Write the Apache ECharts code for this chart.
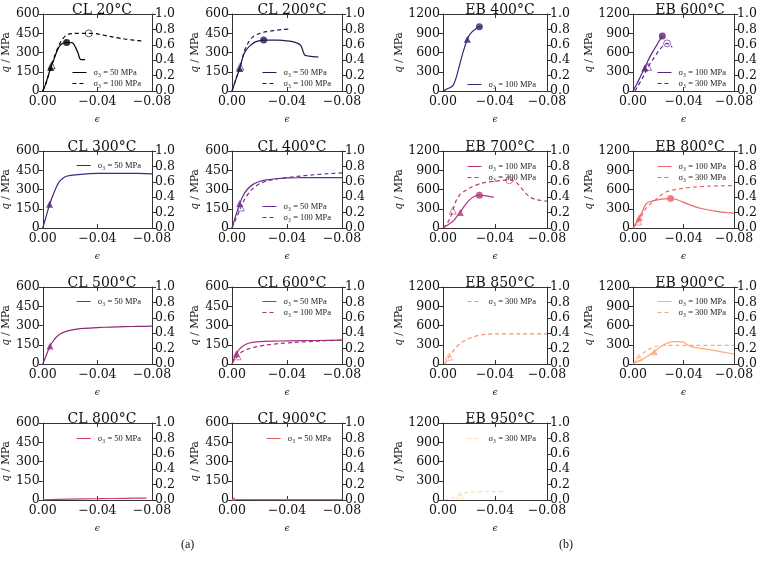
<!DOCTYPE html>
<html><head><meta charset="utf-8">
<script src="https://cdn.jsdelivr.net/npm/echarts@6/dist/echarts.min.js"></script>
<style>html,body{margin:0;padding:0;background:#fff}#c{width:760px;height:569px}</style>
</head><body><div id="c"></div>
<script>
// ---------- axis ranges / tick steps ----------
const EPS_MIN = -0.08, EPS_MAX = 0, EPS_STEP = 0.04;
const CL_QMAX = 600, CL_QSTEP = 150;
const EB_QMAX = 1200, EB_QSTEP = 300;
const R_MAX = 1.0, R_STEP = 0.2;

// ---------- CL data: [strain, q (MPa)] ----------
const cl20_50 = [[0,0],[-0.002,50],[-0.004,120],[-0.006,185],[-0.008,240],[-0.010,300],[-0.012,345],[-0.014,368],[-0.016,376],[-0.0175,378],[-0.020,378],[-0.022,374],[-0.024,340],[-0.026,290],[-0.027,255],[-0.028,245],[-0.031,245]];
const cl20_50_tri = [-0.0058,183], cl20_50_peak = [-0.0175,378];
const cl20_100 = [[0,0],[-0.003,80],[-0.006,190],[-0.009,280],[-0.012,360],[-0.0145,405],[-0.018,440],[-0.022,448],[-0.0337,449],[-0.040,445],[-0.050,423],[-0.060,405],[-0.070,392],[-0.074,390]];
const cl20_100_tri = [-0.0065,200], cl20_100_peak = [-0.0337,449];

const cl200_50 = [[0,0],[-0.003,95],[-0.0056,175],[-0.008,270],[-0.010,315],[-0.013,352],[-0.017,383],[-0.023,397],[-0.033,397],[-0.042,388],[-0.047,375],[-0.050,355],[-0.052,300],[-0.053,278],[-0.056,272],[-0.063,265]];
const cl200_50_tri = [-0.0056,175], cl200_50_peak = [-0.023,397];
const cl200_100 = [[0,0],[-0.003,100],[-0.006,190],[-0.009,310],[-0.012,380],[-0.015,420],[-0.020,448],[-0.025,462],[-0.030,470],[-0.036,478],[-0.042,483]];
const cl200_100_tri = [-0.006,190];

const cl300_50 = [[0,0],[-0.003,110],[-0.005,185],[-0.008,270],[-0.010,320],[-0.012,360],[-0.015,390],[-0.018,405],[-0.022,412],[-0.030,420],[-0.040,425],[-0.050,426],[-0.060,426],[-0.070,425],[-0.080,422]];
const cl300_50_tri = [-0.005,185];

const cl400_50 = [[0,0],[-0.003,105],[-0.0056,190],[-0.008,250],[-0.011,300],[-0.015,338],[-0.020,362],[-0.025,375],[-0.030,382],[-0.040,390],[-0.050,392],[-0.060,393],[-0.080,393]];
const cl400_50_tri = [-0.0056,190];
const cl400_100 = [[0,0],[-0.003,75],[-0.0065,160],[-0.009,220],[-0.012,270],[-0.016,315],[-0.020,345],[-0.025,365],[-0.030,378],[-0.040,393],[-0.050,405],[-0.060,415],[-0.070,423],[-0.080,430]];
const cl400_100_tri = [-0.0065,160];

const cl500_50 = [[0,0],[-0.003,80],[-0.0053,140],[-0.008,185],[-0.010,210],[-0.013,235],[-0.016,250],[-0.020,262],[-0.025,272],[-0.030,278],[-0.040,284],[-0.050,288],[-0.060,291],[-0.070,293],[-0.080,295]];
const cl500_50_tri = [-0.0053,140];

const cl600_50 = [[0,0],[-0.002,55],[-0.0032,80],[-0.005,110],[-0.008,140],[-0.011,158],[-0.015,168],[-0.020,174],[-0.030,178],[-0.040,180],[-0.060,183],[-0.080,186]];
const cl600_50_tri = [-0.0032,80];
const cl600_100 = [[0,0],[-0.002,35],[-0.004,60],[-0.006,85],[-0.009,105],[-0.013,122],[-0.018,135],[-0.025,148],[-0.035,160],[-0.045,168],[-0.060,177],[-0.080,186]];
const cl600_100_tri = [-0.004,60];

const cl800_50 = [[0,2],[-0.02,7],[-0.04,10],[-0.06,13],[-0.076,15]];
const cl900_50 = [[0,0],[-0.001,8],[-0.003,4],[-0.02,3],[-0.08,3]];
const cl900_50_tri = [-0.0015,10];

// ---------- EB data ----------
const eb400_100 = [[0,0],[-0.003,30],[-0.006,60],[-0.008,95],[-0.010,200],[-0.012,350],[-0.014,500],[-0.016,640],[-0.0187,805],[-0.021,890],[-0.024,950],[-0.028,1000],[-0.030,1000]];
const eb400_100_tri = [-0.0187,805], eb400_100_peak = [-0.028,1000];

const eb600_100 = [[0,0],[-0.003,110],[-0.006,230],[-0.0093,360],[-0.012,480],[-0.015,590],[-0.018,690],[-0.021,790],[-0.0232,856]];
const eb600_100_tri = [-0.0093,360], eb600_100_peak = [-0.0232,856];
const eb600_300 = [[-0.0015,0],[-0.004,80],[-0.008,220],[-0.0119,376],[-0.016,500],[-0.0207,636],[-0.024,705],[-0.027,741],[-0.029,720],[-0.031,680]];
const eb600_300_tri = [-0.0119,376], eb600_300_peak = [-0.027,741];

const eb700_100 = [[0,0],[-0.003,40],[-0.006,80],[-0.008,110],[-0.011,190],[-0.0133,245],[-0.016,330],[-0.020,430],[-0.024,490],[-0.028,510],[-0.032,505],[-0.036,490],[-0.039,480]];
const eb700_100_tri = [-0.0133,240], eb700_100_peak = [-0.028,510];
const eb700_300 = [[0,0],[-0.002,40],[-0.004,100],[-0.006,180],[-0.0075,270],[-0.010,420],[-0.013,520],[-0.017,580],[-0.022,640],[-0.030,700],[-0.040,730],[-0.050,745],[-0.053,745],[-0.057,700],[-0.062,580],[-0.067,480],[-0.072,440],[-0.080,420]];
const eb700_300_tri = [-0.0075,270], eb700_300_peak = [-0.051,745];

const eb800_100 = [[0,0],[-0.002,60],[-0.0049,158],[-0.007,240],[-0.009,330],[-0.011,390],[-0.015,420],[-0.020,440],[-0.025,455],[-0.0297,460],[-0.035,440],[-0.040,400],[-0.045,360],[-0.050,325],[-0.055,300],[-0.060,280],[-0.065,262],[-0.070,248],[-0.075,238],[-0.080,230]];
const eb800_100_tri = [-0.0049,158], eb800_100_peak = [-0.0297,460];
const eb800_300 = [[0,0],[-0.002,40],[-0.0041,102],[-0.007,200],[-0.010,300],[-0.014,380],[-0.018,440],[-0.022,510],[-0.026,560],[-0.031,590],[-0.040,620],[-0.050,640],[-0.060,652],[-0.070,658],[-0.080,660]];
const eb800_300_tri = [-0.0041,102];

const eb850_300 = [[-0.001,0],[-0.003,50],[-0.0046,114],[-0.007,180],[-0.010,260],[-0.014,330],[-0.018,380],[-0.023,420],[-0.028,450],[-0.034,465],[-0.040,470],[-0.060,470],[-0.080,470]];
const eb850_300_tri = [-0.0046,114];

const eb900_100 = [[0,0],[-0.004,40],[-0.008,80],[-0.012,130],[-0.0169,190],[-0.020,240],[-0.024,295],[-0.028,330],[-0.032,350],[-0.036,350],[-0.040,340],[-0.043,300],[-0.046,270],[-0.050,255],[-0.060,225],[-0.070,190],[-0.080,155]];
const eb900_100_tri = [-0.0169,190];
const eb900_300 = [[0,0],[-0.002,40],[-0.005,110],[-0.008,170],[-0.012,220],[-0.016,260],[-0.020,280],[-0.025,290],[-0.035,290],[-0.050,290],[-0.065,290],[-0.080,290]];
const eb900_300_tri = [-0.0045,100];

const eb950_300 = [[-0.001,0],[-0.004,15],[-0.008,35],[-0.0129,75],[-0.016,105],[-0.020,122],[-0.025,128],[-0.035,132],[-0.048,130]];
const eb950_300_tri = [-0.0129,75];

// ---------- labels ----------
const L50 = 'σ₃ = 50 MPa', L100 = 'σ₃ = 100 MPa', L300 = 'σ₃ = 300 MPa';

// ---------- panel layout ----------
const COLX = {0:[42,110], 1:[232,110], 2:[443,104], 3:[633,104]};
const ROWY = [14, 151, 287, 423];
const GH = 77;

const panels = [
 {t:'CL 20°C', k:'CL', r:0, c:0, col:'#000000', leg:54, lines:[
   {lab:L50, d:cl20_50, dash:false, tri:cl20_50_tri, pk:cl20_50_peak},
   {lab:L100, d:cl20_100, dash:true, tri:cl20_100_tri, pk:cl20_100_peak}]},
 {t:'CL 200°C', k:'CL', r:0, c:1, col:'#221a52', leg:54, lines:[
   {lab:L50, d:cl200_50, dash:false, tri:cl200_50_tri, pk:cl200_50_peak},
   {lab:L100, d:cl200_100, dash:true, tri:cl200_100_tri}]},
 {t:'CL 300°C', k:'CL', r:1, c:0, col:'#45267c', leg:10, lines:[
   {lab:L50, d:cl300_50, dash:false, tri:cl300_50_tri}]},
 {t:'CL 400°C', k:'CL', r:1, c:1, col:'#6c2e8c', leg:51, lines:[
   {lab:L50, d:cl400_50, dash:false, tri:cl400_50_tri},
   {lab:L100, d:cl400_100, dash:true, tri:cl400_100_tri}]},
 {t:'CL 500°C', k:'CL', r:2, c:0, col:'#8a2a80', leg:10, lines:[
   {lab:L50, d:cl500_50, dash:false, tri:cl500_50_tri}]},
 {t:'CL 600°C', k:'CL', r:2, c:1, col:'#a8337c', leg:10, lines:[
   {lab:L50, d:cl600_50, dash:false, tri:cl600_50_tri},
   {lab:L100, d:cl600_100, dash:true, tri:cl600_100_tri}]},
 {t:'CL 800°C', k:'CL', r:3, c:0, col:'#c9406e', leg:11, lines:[
   {lab:L50, d:cl800_50, dash:false}]},
 {t:'CL 900°C', k:'CL', r:3, c:1, col:'#e35a5e', leg:11, lines:[
   {lab:L50, d:cl900_50, dash:false, tri:cl900_50_tri, small:true}]},
 {t:'EB 400°C', k:'EB', r:0, c:2, col:'#30287a', leg:66, lines:[
   {lab:L100, d:eb400_100, dash:false, tri:eb400_100_tri, pk:eb400_100_peak}]},
 {t:'EB 600°C', k:'EB', r:0, c:3, col:'#5b1f7e', leg:54, lines:[
   {lab:L100, d:eb600_100, dash:false, tri:eb600_100_tri, pk:eb600_100_peak},
   {lab:L300, d:eb600_300, dash:true, tri:eb600_300_tri, pk:eb600_300_peak}]},
 {t:'EB 700°C', k:'EB', r:1, c:2, col:'#b8377a', leg:11, lines:[
   {lab:L100, d:eb700_100, dash:false, tri:eb700_100_tri, pk:eb700_100_peak},
   {lab:L300, d:eb700_300, dash:true, tri:eb700_300_tri, pk:eb700_300_peak}]},
 {t:'EB 800°C', k:'EB', r:1, c:3, col:'#f06565', leg:11, lines:[
   {lab:L100, d:eb800_100, dash:false, tri:eb800_100_tri, pk:eb800_100_peak},
   {lab:L300, d:eb800_300, dash:true, tri:eb800_300_tri}]},
 {t:'EB 850°C', k:'EB', r:2, c:2, col:'#f9916b', leg:10, lines:[
   {lab:L300, d:eb850_300, dash:true, tri:eb850_300_tri}]},
 {t:'EB 900°C', k:'EB', r:2, c:3, col:'#fbad78', leg:10, lines:[
   {lab:L100, d:eb900_100, dash:false, tri:eb900_100_tri},
   {lab:L300, d:eb900_300, dash:true, tri:eb900_300_tri}]},
 {t:'EB 950°C', k:'EB', r:3, c:2, col:'#fcdcaa', leg:11, lines:[
   {lab:L300, d:eb950_300, dash:true, tri:eb950_300_tri}]}
];

const AX = '#333333';
const SERIF = 'DejaVu Serif';
const fmtEps = v => (v < 0 ? '\u2212' : '') + Math.abs(v).toFixed(2);

const grid = [], xAxis = [], yAxis = [], series = [], legend = [], title = [];
panels.forEach((p, i) => {
  const [gx, gw] = COLX[p.c];
  const gy = ROWY[p.r];
  const qmax = p.k === 'CL' ? CL_QMAX : EB_QMAX;
  const qstep = p.k === 'CL' ? CL_QSTEP : EB_QSTEP;
  grid.push({left: gx, top: gy, width: gw, height: GH, containLabel: false});
  title.push({text: p.t, left: gx + gw / 2, top: gy - 16, textAlign: 'center',
    textStyle: {fontFamily: SERIF, fontSize: 14, fontWeight: 'normal', color: '#111'}});
  const axLine = {show: true, onZero: false, lineStyle: {color: AX, width: 1}};
  xAxis.push({gridIndex: i, type: 'value', min: EPS_MIN, max: EPS_MAX, interval: EPS_STEP, inverse: true,
    position: 'bottom', axisLine: axLine, axisTick: {show: true, inside: true, length: 4, lineStyle: {color: AX}},
    axisLabel: {formatter: fmtEps, fontFamily: SERIF, fontSize: 12.5, color: '#111', margin: 4},
    splitLine: {show: false}, name: 'ϵ', nameLocation: 'middle', nameGap: 24,
    nameTextStyle: {fontFamily: SERIF, fontSize: 9, fontStyle: 'italic', color: '#111'}});
  xAxis.push({gridIndex: i, type: 'value', min: EPS_MIN, max: EPS_MAX, interval: EPS_STEP, inverse: true,
    position: 'top', axisLine: axLine, axisTick: {show: true, inside: true, length: 4, lineStyle: {color: AX}},
    axisLabel: {show: false}, splitLine: {show: false}});
  yAxis.push({gridIndex: i, type: 'value', min: 0, max: qmax, interval: qstep, position: 'left',
    axisLine: axLine, axisTick: {show: true, length: 4, lineStyle: {color: AX}},
    axisLabel: {formatter: v => String(Math.round(v)), fontFamily: SERIF, fontSize: 12.5, color: '#111', margin: 3},
    splitLine: {show: false}, name: '{i|q} / MPa', nameLocation: 'middle', nameRotate: 90,
    nameGap: p.k === 'CL' ? 30 : 36,
    nameTextStyle: {fontFamily: SERIF, fontSize: 10.5, color: '#111',
      rich: {i: {fontFamily: SERIF, fontSize: 10.5, fontStyle: 'italic', color: '#111'}}}});
  yAxis.push({gridIndex: i, type: 'value', min: 0, max: R_MAX, interval: R_STEP, position: 'right',
    axisLine: axLine, axisTick: {show: true, length: 4, lineStyle: {color: AX}},
    axisLabel: {formatter: v => v.toFixed(1), fontFamily: SERIF, fontSize: 12.5, color: '#111', margin: 3},
    splitLine: {show: false}});
  const names = [];
  p.lines.forEach((ln, j) => {
    const nm = ln.lab + '#' + i;
    names.push(nm);
    series.push({type: 'line', name: nm, xAxisIndex: 2 * i, yAxisIndex: 2 * i, data: ln.d,
      symbol: 'none', smooth: 0.3, silent: true, animation: false, z: 2,
      lineStyle: {color: p.col, width: 1.2, type: ln.dash ? [4, 3] : 'solid'},
      itemStyle: {color: p.col}});
    const st = ln.dash ? {color: 'rgba(255,255,255,0)', borderColor: p.col, borderWidth: 0.8} : {color: p.col};
    const sz = ln.small ? 4 : 7;
    if (ln.tri) series.push({type: 'scatter', xAxisIndex: 2 * i, yAxisIndex: 2 * i, data: [ln.tri],
      symbol: 'triangle', symbolSize: sz, itemStyle: st, silent: true, animation: false, z: 3});
    if (ln.pk) series.push({type: 'scatter', xAxisIndex: 2 * i, yAxisIndex: 2 * i, data: [ln.pk],
      symbol: 'circle', symbolSize: 7, itemStyle: st, silent: true, animation: false, z: 3});
  });
  legend.push({data: names, orient: 'vertical', right: 760 - (gx + gw) + 6, top: gy + p.leg - 5,
    itemWidth: 14, itemHeight: 6, itemGap: 2, selectedMode: false,
    itemStyle: {opacity: 0}, lineStyle: {width: 1},
    formatter: n => n.split('#')[0],
    textStyle: {fontFamily: 'Liberation Serif', fontSize: 8.5, color: '#222', padding: [0, 0, 0, 2]}});
});

const chart = echarts.init(document.getElementById('c'), null, {renderer: 'canvas'});
chart.setOption({
  animation: false, backgroundColor: '#fff',
  title, grid, xAxis, yAxis, series, legend,
  graphic: [
    {type: 'text', left: 181, top: 539, style: {text: '(a)', font: '12px "Liberation Serif"', fill: '#111'}},
    {type: 'text', left: 559, top: 539, style: {text: '(b)', font: '12px "Liberation Serif"', fill: '#111'}}
  ]
});
</script></body></html>
